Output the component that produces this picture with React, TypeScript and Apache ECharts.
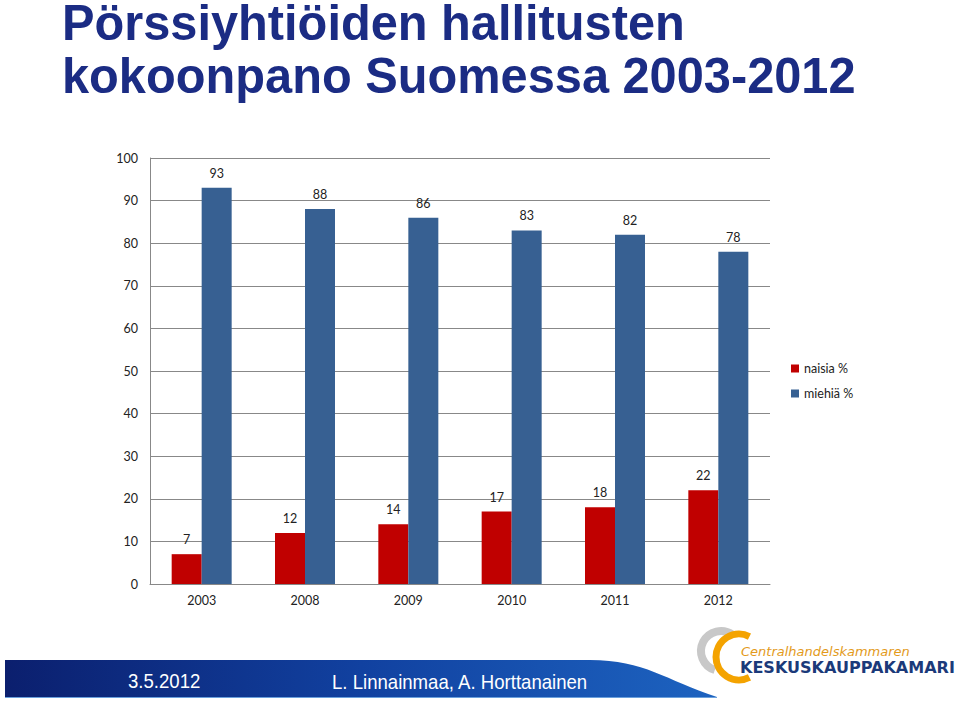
import React, { useEffect, useRef } from "react";
import * as echarts from "echarts";

const categories = ["2003", "2008", "2009", "2010", "2011", "2012"];
const naisia = [7, 12, 14, 17, 18, 22];
const miehia = [93, 88, 86, 83, 82, 78];
const seriesNames = ["naisia %", "miehiä %"];
const titleLines = ["Pörssiyhtiöiden hallitusten", "kokoonpano Suomessa 2003-2012"];
const footerDate = "3.5.2012";
const footerAuthors = "L. Linnainmaa, A. Horttanainen";
const logoTop = "Centralhandelskammaren";
const logoBottom = "KESKUSKAUPPAKAMARI";

echarts.graphic.registerShape(
  "footerBand",
  echarts.graphic.extendPath("M0 0 L585 0 C640 0 660 20 712 37 L0 37 Z", {})
);

export default function App() {
  const ref = useRef<HTMLDivElement>(null);
  useEffect(() => {
    const chart = echarts.init(ref.current!, null, { renderer: "svg" });
    const font = "Lato, 'Open Sans', sans-serif";
    const titleFont = "'Liberation Sans', Arial, sans-serif";
    chart.setOption({
      animation: false,
      backgroundColor: "#ffffff",
      grid: { left: 150, right: 190, top: 158, bottom: 117 },
      legend: {
        orient: "vertical",
        left: 786,
        top: 357,
        itemWidth: 8,
        itemHeight: 8,
        itemGap: 12,
        icon: "rect",
        data: seriesNames,
        textStyle: { fontFamily: font, fontSize: 12.5, color: "#222" },
      },
      xAxis: {
        type: "category",
        data: categories,
        axisTick: { show: false },
        axisLine: { lineStyle: { color: "#888" } },
        axisLabel: { fontFamily: font, fontSize: 12.5, color: "#222", margin: 10 },
      },
      yAxis: {
        type: "value",
        min: 0,
        max: 100,
        interval: 10,
        axisLine: { show: true, lineStyle: { color: "#888" } },
        axisTick: { show: false },
        splitLine: { lineStyle: { color: "#888" } },
        axisLabel: { fontFamily: font, fontSize: 12.5, color: "#222", margin: 12 },
      },
      series: [
        {
          name: seriesNames[0],
          type: "bar",
          data: naisia,
          barWidth: 30,
          barGap: "0%",
          itemStyle: { color: "#c00000" },
          label: { show: true, position: "top", fontFamily: font, fontSize: 12.5, color: "#222", distance: 8 },
        },
        {
          name: seriesNames[1],
          type: "bar",
          data: miehia,
          barWidth: 30,
          barGap: "0%",
          itemStyle: { color: "#376092" },
          label: { show: true, position: "top", fontFamily: font, fontSize: 12.5, color: "#222", distance: 8 },
        },
      ],
      graphic: [
        {
          type: "text",
          x: 62,
          y: 2,
          scaleX: 0.975,
          style: {
            text: titleLines[0],
            fontFamily: titleFont,
            fontWeight: "bold",
            fontSize: 50,
            lineHeight: 40,
            fill: "#1b2c84",
            textVerticalAlign: "top",
          },
        },
        {
          type: "text",
          x: 62,
          y: 55,
          scaleX: 0.975,
          style: {
            text: titleLines[1],
            fontFamily: titleFont,
            fontWeight: "bold",
            fontSize: 50,
            lineHeight: 40,
            fill: "#1b2c84",
            textVerticalAlign: "top",
          },
        },
        {
          type: "footerBand",
          x: 5,
          y: 660,
          style: {
            fill: new echarts.graphic.LinearGradient(0, 0, 1, 0, [
              { offset: 0, color: "#0b1f6e" },
              { offset: 0.5, color: "#1141a0" },
              { offset: 1, color: "#1d63c0" },
            ]),
          },
        },
        {
          type: "line",
          shape: { x1: 5, y1: 697.5, x2: 717, y2: 697.5 },
          style: { stroke: "#6aa0dc", lineWidth: 1 },
        },
        {
          type: "text",
          x: 128,
          y: 681,
          scaleX: 0.93,
          style: {
            text: footerDate,
            fontFamily: titleFont,
            fontSize: 20,
            fill: "#ffffff",
            textVerticalAlign: "middle",
          },
        },
        {
          type: "text",
          x: 332,
          y: 682,
          scaleX: 0.93,
          style: {
            text: footerAuthors,
            fontFamily: titleFont,
            fontSize: 20,
            fill: "#ffffff",
            textVerticalAlign: "middle",
          },
        },
        {
          type: "arc",
          shape: { cx: 721, cy: 651, r: 20, startAngle: -Math.PI * 0.3, endAngle: Math.PI * 0.6, clockwise: false },
          style: { stroke: "#c8c8c8", lineWidth: 8, fill: "none" },
        },
        {
          type: "arc",
          shape: { cx: 739, cy: 657, r: 23, startAngle: -Math.PI * 0.35, endAngle: Math.PI * 0.35, clockwise: false },
          style: { stroke: "#f4a300", lineWidth: 7, fill: "none" },
        },
        {
          type: "text",
          x: 741,
          y: 651,
          style: {
            text: logoTop,
            fontFamily: "'DejaVu Sans', sans-serif",
            fontStyle: "italic",
            fontSize: 13,
            fill: "#e39a1a",
            textVerticalAlign: "middle",
          },
        },
        {
          type: "text",
          x: 740,
          y: 668,
          scaleX: 1.07,
          style: {
            text: logoBottom,
            fontFamily: "'DejaVu Sans', sans-serif",
            fontWeight: "bold",
            fontSize: 15,
            fill: "#1b3a7a",
            textVerticalAlign: "middle",
          },
        },
      ],
    });
    return () => chart.dispose();
  }, []);
  return <div ref={ref} style={{ position: "fixed", left: 0, top: 0, width: 960, height: 701 }} />;
}
